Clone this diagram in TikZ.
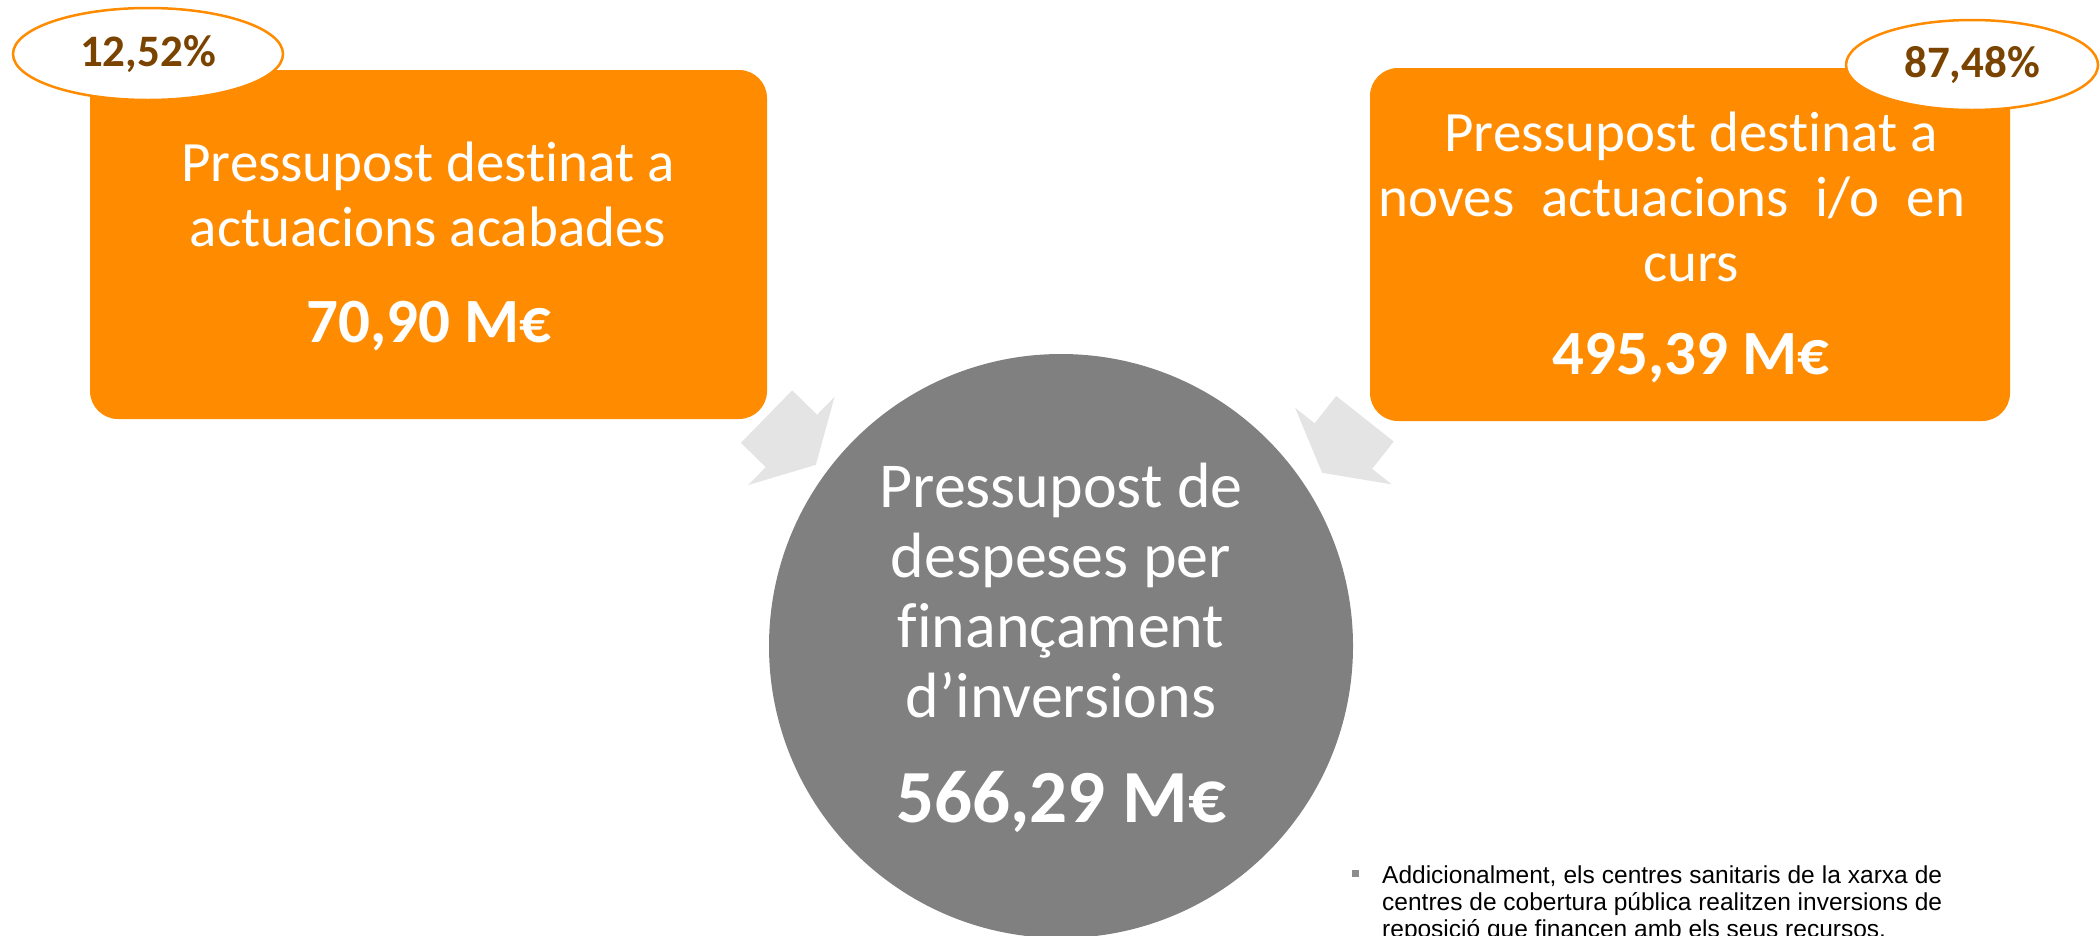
\documentclass[tikz,border=0pt]{standalone}
\usepackage{fontspec}
\setmainfont{Carlito}[Ligatures=NoCommon]
\newfontfamily\notefont{Liberation Sans}
\usetikzlibrary{shapes.geometric,shapes.arrows}

\definecolor{taronja}{RGB}{255,140,0}
\definecolor{marro}{RGB}{122,68,0}
\definecolor{grisfosc}{RGB}{128,128,128}
\definecolor{grisclar}{RGB}{228,228,228}
\definecolor{grisnota}{RGB}{140,140,140}

\begin{document}
\begin{tikzpicture}[x=1pt,y=-1pt,
    caixa/.style={fill=taronja, rounded corners=28pt, inner sep=0pt},
    textblanc/.style={text=white, align=center, inner sep=0pt},
    import/.style={text=white, inner sep=0pt, anchor=base},
    percent/.style={ellipse, draw=taronja, line width=2.5pt, fill=white, text=marro,
        inner sep=0pt, font=\fontsize{45}{50}\selectfont\bfseries},
    fletxa/.style={single arrow, fill=grisclar, inner xsep=0pt, inner ysep=36.5pt,
        minimum height=69pt, single arrow head extend=25pt,
        single arrow tip angle=122, anchor=tip}]
        \useasboundingbox (0,0) rectangle (2100,935);

        % Caixes i cercle
        \node[caixa, minimum width=677pt, minimum height=349pt] (acabades) at (428.5,244.5) {};
        \node[caixa, minimum width=640pt, minimum height=353pt] (noves) at (1690,244.5) {};
        \node[circle, fill=grisfosc, minimum size=584pt, inner sep=0pt] (total) at (1061,646) {};

        \node[fletxa, rotate=-44.4] (fletxaE) at (816,465) {};
        \node[fletxa, rotate=-128.4] (fletxaD) at (1322,473) {};

        \node[percent, minimum width=270pt, minimum height=92pt] (pctE) at (148,54) {12,52\%};
        \node[percent, minimum width=252pt, minimum height=90pt] (pctD) at (1972,65) {87,48\%};

        % Textos
        \node[textblanc, font=\fontsize{57}{65}\selectfont] (titolE) at (428,194)
            {Pressupost destinat a\\actuacions acabades};
        \node[import, font=\fontsize{63}{72}\selectfont\bfseries] (importE) at (429,342) {70,90 M€};

        \node[textblanc, font=\fontsize{57}{65}\selectfont] (titolD) at (1691,197)
            {Pressupost destinat a\\{\spaceskip=27pt noves actuacions i/o en}\kern38pt\\curs};
        \node[import, font=\fontsize{63}{72}\selectfont\bfseries] (importD) at (1691,374) {495,39 M€};

        \node[textblanc, font=\fontsize{64}{70}\selectfont] (titolT) at (1061,591)
            {Pressupost de\\despeses per\\finançament\\d’inversions};
        \node[import, font=\fontsize{75}{80}\selectfont\bfseries] (importT) at (1061,822) {566,29 M€};

        \node[fill=grisnota, minimum size=7pt, inner sep=0pt] (vinyeta) at (1355,873) {};
        \node[anchor=north west, text width=560pt, align=justify, inner sep=0pt,
            font=\notefont\fontsize{24.5}{27}\selectfont] (nota) at (1382,866)
            {Addicionalment, els centres sanitaris de la xarxa de\linebreak
             centres de cobertura pública realitzen inversions de\linebreak
             reposició que financen amb els seus recursos.};
\end{tikzpicture}
\end{document}
